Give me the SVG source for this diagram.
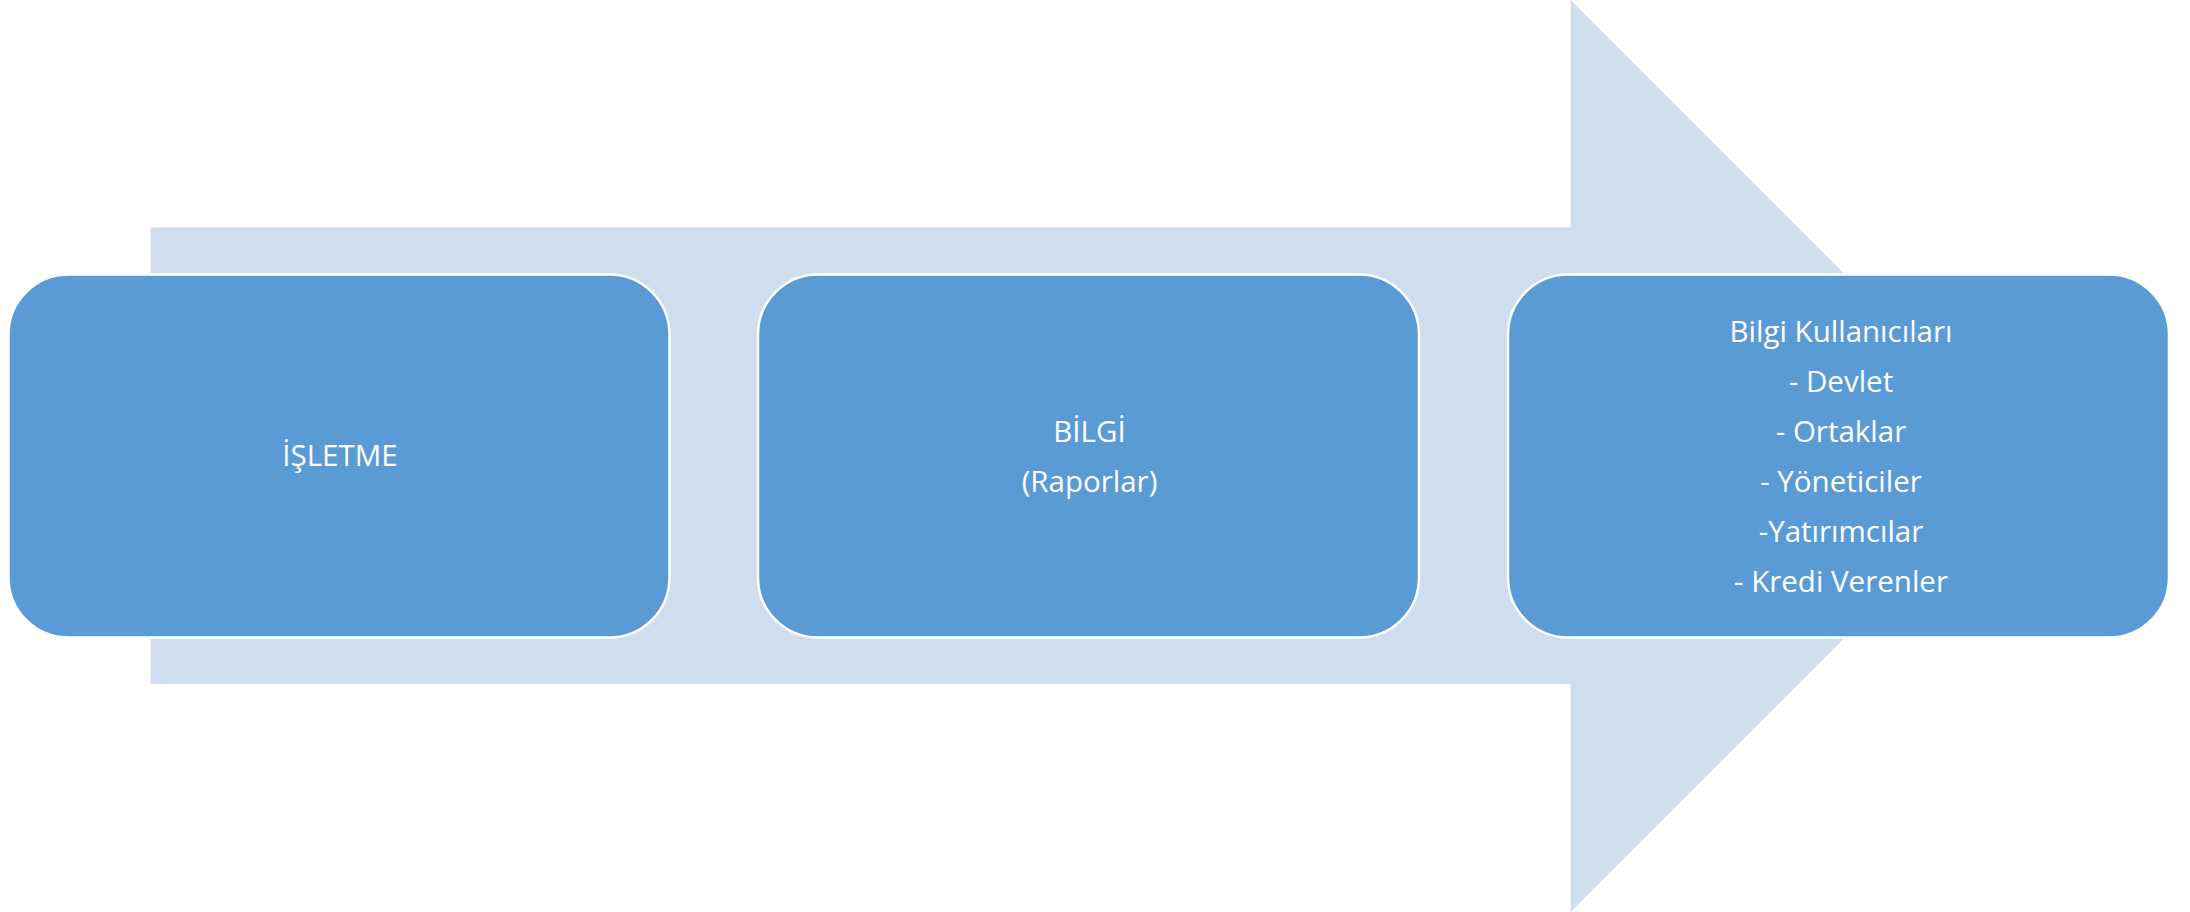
<svg xmlns="http://www.w3.org/2000/svg" width="2190" height="912" viewBox="0 0 2190 912">
  <style>
    .box { fill: #5B9BD5; stroke: #FFFFFF; stroke-width: 2.5; }
    .lbl { fill: #FFFFFF; font-family: "Open Sans", "Liberation Sans", sans-serif; font-size: 29.5px; text-anchor: middle; }
  </style>
  <rect width="2190" height="912" fill="#FFFFFF"/>
  <g id="arrow">
    <polygon points="150.5,227.5 1570.5,227.5 1570.5,0 2026.5,456 1570.5,912 1570.5,684 150.5,684" fill="#CFDEEE"/>
  </g>
  <g id="isletme">
    <rect class="box" x="8.5" y="274.5" width="661" height="363" rx="60" ry="60"/>
    <text class="lbl" x="340" y="466">İŞLETME</text>
  </g>
  <g id="bilgi">
    <rect class="box" x="758" y="274.5" width="661" height="363" rx="60" ry="60"/>
    <text class="lbl" x="1089.5" y="441.7">BİLGİ</text>
    <text class="lbl" x="1089.5" y="491.7">(Raporlar)</text>
  </g>
  <g id="kullanicilar">
    <rect class="box" x="1508" y="274.5" width="661" height="363" rx="60" ry="60"/>
    <text class="lbl" x="1841" y="341.7">Bilgi Kullanıcıları</text>
    <text class="lbl" x="1841" y="391.7">- Devlet</text>
    <text class="lbl" x="1841" y="442.3">- Ortaklar</text>
    <text class="lbl" x="1841" y="492.3">- Yöneticiler</text>
    <text class="lbl" x="1841" y="541.7">-Yatırımcılar</text>
    <text class="lbl" x="1841" y="591.7">- Kredi Verenler</text>
  </g>
  <g id="connectors"></g>
</svg>
